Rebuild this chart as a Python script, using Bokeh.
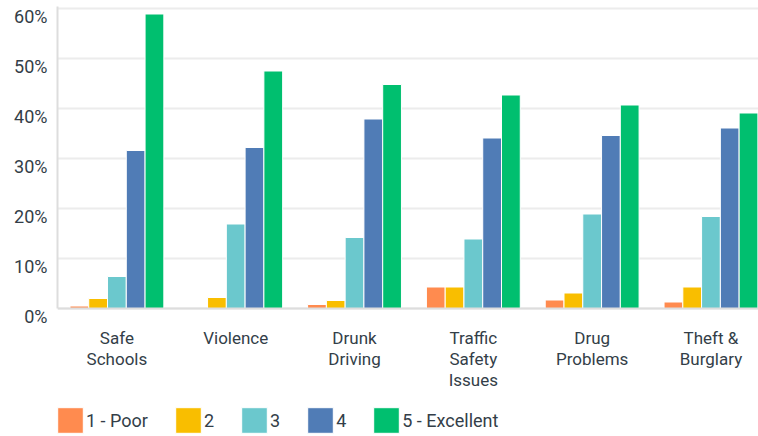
from bokeh.plotting import figure
from bokeh.models import (ColumnDataSource, Range1d, FixedTicker, Legend, LegendItem,
                          LinearAxis, Span)
from bokeh.core.properties import value
from bokeh.embed import file_html
from bokeh.resources import INLINE

categories = ["Safe\nSchools", "Violence", "Drunk\nDriving", "Traffic\nSafety\nIssues",
              "Drug\nProblems", "Theft &\nBurglary"]
series_names = ["1 - Poor", "2", "3", "4", "5 - Excellent"]
poor = [0.5, 0.0, 0.8, 4.3, 1.7, 1.3]
two = [2.0, 2.2, 1.6, 4.3, 3.1, 4.3]
three = [6.4, 16.9, 14.2, 13.9, 18.9, 18.4]
four = [31.6, 32.2, 37.9, 34.1, 34.6, 36.1]
excellent = [58.9, 47.5, 44.8, 42.7, 40.7, 39.1]
series_values = [poor, two, three, four, excellent]
colors = ["#FF8B4F", "#F9BE00", "#6BC8CD", "#507CB6", "#00BF6F"]
y_ticks = [0, 10, 20, 30, 40, 50, 60]
y_tick_labels = ["0%", "10%", "20%", "30%", "40%", "50%", "60%"]

FONT = "Roboto"
TEXT = "#333e48"
LABEL_SHIFT = 1.6  # tick labels sit a little below their grid lines

p = figure(width=758, height=436, output_backend="svg", toolbar_location=None,
           x_range=Range1d(0, 5.9), y_range=Range1d(-25.6, 60.4),
           min_border_top=6, min_border_left=57, min_border_right=0, min_border_bottom=0)
p.outline_line_color = None
p.background_fill_color = "white"
p.border_fill_color = "white"
p.xaxis.visible = False
p.xgrid.grid_line_color = None

p.ygrid.ticker = FixedTicker(ticks=y_ticks)
p.ygrid.grid_line_color = "#ececec"
p.ygrid.grid_line_width = 2

step = 0.158
centers = [i + 0.5 for i in range(len(categories))]
items = []
for k, (name, vals, col) in enumerate(zip(series_names, series_values, colors)):
    xs = [c + (k - 2) * step for c in centers]
    src = ColumnDataSource(dict(x=xs, top=vals))
    r = p.vbar(x="x", top="top", bottom=0, width=step, source=src,
               fill_color=col, line_color="white", line_width=1)
    items.append(LegendItem(label=name, renderers=[r]))

p.add_layout(Span(location=0, dimension="width", line_color="#dddddd", line_width=2))

# y axis line (from 0 to top)
p.yaxis.bounds = (0, 60.4)
p.yaxis.ticker = FixedTicker(ticks=[])
p.yaxis.major_tick_in = 0
p.yaxis.major_tick_out = 0
p.yaxis.minor_tick_line_color = None
p.yaxis.major_label_standoff = 0
p.yaxis.axis_line_color = "#dddddd"
p.yaxis.axis_line_width = 2

# y tick labels
lab_axis = LinearAxis(ticker=FixedTicker(ticks=[v - LABEL_SHIFT for v in y_ticks]),
                      major_label_overrides={v - LABEL_SHIFT: t for v, t in zip(y_ticks, y_tick_labels)},
                      axis_line_color=None, major_tick_line_color=None, minor_tick_line_color=None,
                      major_label_standoff=4, major_label_text_font=FONT,
                      major_label_text_font_size="18px", major_label_text_color=TEXT)
p.add_layout(lab_axis, "left")

# category labels
lsrc = ColumnDataSource(dict(x=centers, y=[0] * len(centers), text=categories))
p.text(x="x", y="y", text="text", source=lsrc, y_offset=19, text_align="center",
       text_baseline="top", text_font=value(FONT), text_font_size="17px",
       text_color=TEXT, text_line_height=1.05)

legend = Legend(items=items, orientation="horizontal", location=(-3, 0),
                glyph_width=32, glyph_height=32, label_standoff=0, label_width=0, spacing=24,
                padding=0, margin=0, border_line_color=None, background_fill_alpha=0,
                label_text_font=FONT, label_text_font_size="18px", label_text_color=TEXT)
p.add_layout(legend)

open("out.html", "w").write(file_html(p, INLINE))
